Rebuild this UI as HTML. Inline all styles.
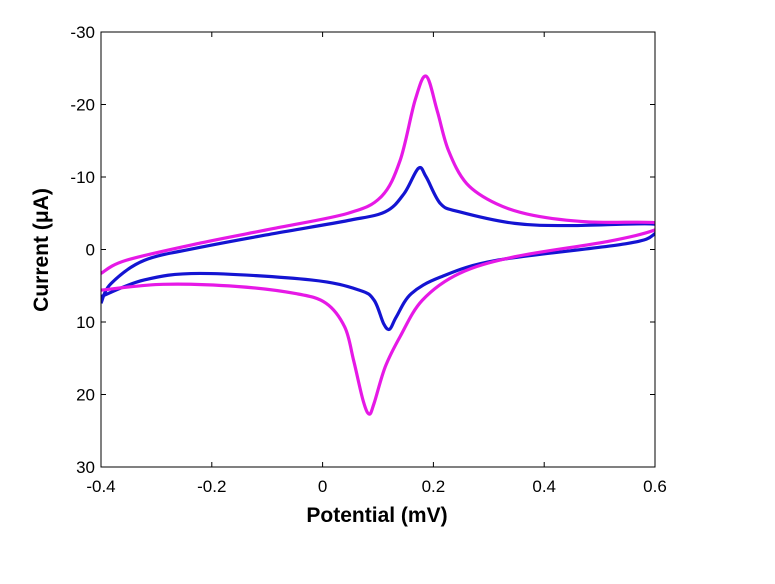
<!DOCTYPE html>
<html><head><meta charset="utf-8"><style>
body{margin:0;background:#fff;width:775px;height:579px;overflow:hidden}
svg text{font-family:"Liberation Sans",Arial,sans-serif;fill:#000}
</style></head><body>
<svg id="chart" width="775" height="579" xmlns="http://www.w3.org/2000/svg">
<defs><clipPath id="clip"><rect x="101" y="32" width="554" height="435"/></clipPath></defs>
<rect x="0" y="0" width="775" height="579" fill="#fff"/>
<g id="plot" clip-path="url(#clip)"></g>
<rect x="101" y="32" width="554" height="435" fill="none" stroke="#000" stroke-width="1"/>
<g id="axes"></g>
<text x="377" y="522" font-size="21" font-weight="bold" text-anchor="middle">Potential (mV)</text>
<text transform="translate(48,250) rotate(-90)" font-size="21" font-weight="bold" text-anchor="middle">Current (μA)</text>
</svg>
<script>
const xTicks=[-0.4,-0.2,0,0.2,0.4,0.6];
const xTickLabels=["-0.4","-0.2","0","0.2","0.4","0.6"];
const yTicks=[-30,-20,-10,0,10,20,30];
const yTickLabels=["-30","-20","-10","0","10","20","30"];
const magentaX=[-0.4,-0.355,-0.22,-0.088,0.046,0.106,0.14,0.167,0.187,0.207,0.227,0.26,0.314,0.381,0.481,0.6,0.6,0.514,0.347,0.247,0.18,0.14,0.113,0.093,0.084,0.073,0.056,0.04,0.006,-0.047,-0.154,-0.288,-0.4];
const magentaY=[3.3,1.5,-0.9,-2.9,-5.0,-7.3,-12.3,-20.6,-23.9,-19.1,-13.7,-9.1,-6.3,-4.7,-3.8,-3.7,-2.7,-1.1,1.0,3.3,7.0,12.0,16.2,21.2,22.7,20.8,15.3,10.7,7.4,6.1,5.1,4.8,5.6];
const blueX=[-0.4,-0.382,-0.322,-0.221,-0.088,0.046,0.113,0.147,0.173,0.187,0.213,0.247,0.347,0.447,0.6,0.6,0.548,0.314,0.213,0.16,0.133,0.121,0.11,0.093,0.066,-0.021,-0.221,-0.322,-0.4];
const blueY=[7.4,4.7,1.5,-0.3,-2.2,-4.0,-5.2,-7.7,-11.2,-10.0,-6.3,-5.2,-3.6,-3.3,-3.5,-2.2,-0.8,1.5,3.8,6.1,9.3,11.0,10.2,7.0,5.6,4.2,3.3,4.2,6.5];
const L=101,R=655,T=32,B=467;
const sx=v=>L+(v+0.4)/1.0*(R-L);
const sy=v=>T+(v+30)/60*(B-T);
const NS="http://www.w3.org/2000/svg";
const axes=document.getElementById('axes');
xTicks.forEach((t,i)=>{
  const x=sx(t);
  const l1=document.createElementNS(NS,'path');
  l1.setAttribute('d',`M${x},${B}V${B-5}M${x},${T}V${T+5}`);
  l1.setAttribute('stroke','#000');
  
  
  axes.appendChild(l1);
  const tx=document.createElementNS(NS,'text');
  tx.setAttribute('x',x);tx.setAttribute('y',B+25);
  tx.setAttribute('font-size','17');tx.setAttribute('text-anchor','middle');
  tx.textContent=xTickLabels[i];
  
  
  axes.appendChild(tx);
});
yTicks.forEach((t,i)=>{
  const y=sy(t);
  const l1=document.createElementNS(NS,'path');
  l1.setAttribute('d',`M${L},${y}H${L+5}M${R},${y}H${R-5}`);
  l1.setAttribute('stroke','#000');
  
  
  axes.appendChild(l1);
  const tx=document.createElementNS(NS,'text');
  tx.setAttribute('x',L-6);tx.setAttribute('y',y+6);
  tx.setAttribute('font-size','17');tx.setAttribute('text-anchor','end');
  tx.textContent=yTickLabels[i];
  
  
  axes.appendChild(tx);
});
function curve(xs,ys){
  const p=xs.map((x,i)=>[sx(x),sy(ys[i])]);
  let d=`M${p[0][0]},${p[0][1]}`;
  for(let i=0;i<p.length-1;i++){
    const p0=p[Math.max(0,i-1)],p1=p[i],p2=p[i+1],p3=p[Math.min(p.length-1,i+2)];
    const k=1/6;
    d+=`C${p1[0]+(p2[0]-p0[0])*k},${p1[1]+(p2[1]-p0[1])*k} ${p2[0]-(p3[0]-p1[0])*k},${p2[1]-(p3[1]-p1[1])*k} ${p2[0]},${p2[1]}`;
  }
  return d;
}
const plot=document.getElementById('plot');
const pb=document.createElementNS(NS,'path');
pb.setAttribute('d',curve(blueX,blueY));
pb.setAttribute('fill','none');pb.setAttribute('stroke','#1414d2');pb.setAttribute('stroke-width','3.2');pb.setAttribute('stroke-linejoin','round');


plot.appendChild(pb);
const pm=document.createElementNS(NS,'path');
pm.setAttribute('d',curve(magentaX,magentaY));
pm.setAttribute('fill','none');pm.setAttribute('stroke','#e619e6');pm.setAttribute('stroke-width','3.2');pm.setAttribute('stroke-linejoin','round');


plot.appendChild(pm);
</script>
</body></html>
